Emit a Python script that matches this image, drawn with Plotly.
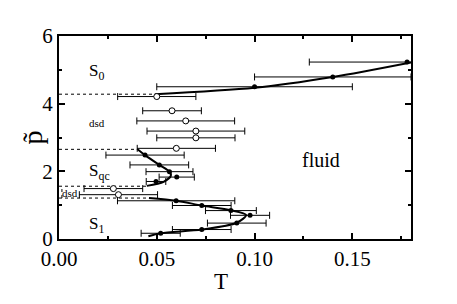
import plotly.graph_objects as go

# ---- data ----
# S0 / fluid boundary (filled points)
s0_T = [0.100, 0.140, 0.178]
s0_P = [4.50, 4.79, 5.23]
s0_dT = [0.05, 0.04, 0.05]
s0_line_T = [0.049, 0.100, 0.140, 0.180]
s0_line_P = [4.28, 4.47, 4.79, 5.22]

# dsd points (open circles)
dsd_T = [0.050, 0.0578, 0.0648, 0.070, 0.070, 0.060, 0.0278, 0.0304]
dsd_P = [4.21, 3.79, 3.49, 3.19, 2.99, 2.68, 1.49, 1.31]
dsd_dT = [0.02, 0.015, 0.025, 0.025, 0.02, 0.02, 0.015, 0.02]

# Sqc boundary (filled points)
sqc_T = [0.044, 0.0513, 0.0565, 0.0602, 0.0496]
sqc_P = [2.48, 2.19, 1.99, 1.83, 1.70]
sqc_dT = [0.02, 0.015, 0.012, 0.009, 0.005]
sqc_line_T = [0.040, 0.044, 0.0513, 0.0565, 0.0572, 0.0535, 0.0449]
sqc_line_P = [2.66, 2.48, 2.19, 1.99, 1.87, 1.69, 1.57]

# S1 boundary (filled points)
s1_T = [0.0599, 0.073, 0.0879, 0.0977, 0.0909, 0.073, 0.052]
s1_P = [1.13, 0.99, 0.84, 0.70, 0.47, 0.28, 0.17]
s1_dT = [0.03, 0.015, 0.013, 0.01, 0.015, 0.015, 0.01]
s1_line_T = [0.046, 0.0599, 0.073, 0.0879, 0.0957, 0.0909, 0.073, 0.052, 0.0457]
s1_line_P = [1.21, 1.13, 0.99, 0.85, 0.71, 0.48, 0.28, 0.17, 0.08]

# dotted guide lines (pressure level, end temperature)
guide_P = [4.28, 2.65, 1.56, 1.21]
guide_Tend = [0.049, 0.040, 0.045, 0.046]
box_T = 0.0015

x_ticks = [0.00, 0.05, 0.10, 0.15]
x_tick_text = ["0.00", "0.05", "0.10", "0.15"]
y_ticks = [0, 2, 4, 6]

FONT = "Liberation Serif, Times New Roman, serif"

fig = go.Figure()

# dotted guides
for p, te in zip(guide_P, guide_Tend):
    fig.add_trace(go.Scatter(x=[0, te], y=[p, p], mode="lines",
                             line=dict(color="black", width=1, dash="dot"),
                             showlegend=False, hoverinfo="skip"))
fig.add_trace(go.Scatter(x=[box_T, box_T], y=[guide_P[3], guide_P[2]], mode="lines",
                         line=dict(color="black", width=1, dash="dot"),
                         showlegend=False, hoverinfo="skip"))

# boundary curves
for lt, lp in [(s0_line_T, s0_line_P), (sqc_line_T, sqc_line_P), (s1_line_T, s1_line_P)]:
    fig.add_trace(go.Scatter(x=lt, y=lp, mode="lines",
                             line=dict(color="black", width=2, shape="spline", smoothing=0.8),
                             showlegend=False, hoverinfo="skip"))

err_style = dict(type="data", color="black", thickness=1, width=3.5)

# open circles
fig.add_trace(go.Scatter(x=dsd_T, y=dsd_P, mode="markers",
                         marker=dict(symbol="circle", size=6, color="white",
                                     line=dict(color="black", width=1)),
                         error_x=dict(array=dsd_dT, **err_style),
                         showlegend=False, cliponaxis=False))

# filled points
for t, p, dt in [(s0_T, s0_P, s0_dT), (sqc_T, sqc_P, sqc_dT), (s1_T, s1_P, s1_dT)]:
    fig.add_trace(go.Scatter(x=t, y=p, mode="markers",
                             marker=dict(symbol="circle", size=5, color="black"),
                             error_x=dict(array=dt, **err_style),
                             showlegend=False, cliponaxis=False))

def label(x, y, text, size, xanchor="left"):
    fig.add_annotation(x=x, y=y, xref="x", yref="y", text=text, showarrow=False,
                       xanchor=xanchor, yanchor="middle",
                       font=dict(family=FONT, size=size, color="black"))

label(0.0143, 4.93, "S<sub>0</sub>", 17)
label(0.0143, 3.43, "dsd", 11)
label(0.0143, 1.98, "S<sub>qc</sub>", 17)
label(0.0003, 1.37, "dsd", 11)
label(0.0143, 0.42, "S<sub>1</sub>", 17)
label(0.134, 2.34, "fluid", 20, xanchor="center")

# axis titles as annotations for exact placement
fig.add_annotation(x=-0.074, y=0.5, xref="paper", yref="paper", text="p\u0303",
                   textangle=-90, showarrow=False, xanchor="center", yanchor="middle",
                   font=dict(family=FONT, size=28, color="black"))
fig.add_annotation(x=0.46, y=-0.208, xref="paper", yref="paper", text="T",
                   showarrow=False, xanchor="center", yanchor="middle",
                   font=dict(family=FONT, size=23, color="black"))

axis_common = dict(showline=True, linecolor="black", linewidth=2, mirror="allticks",
                   ticks="inside", ticklen=6, tickwidth=2, tickcolor="black",
                   showgrid=False, zeroline=False, automargin=False,
                   tickfont=dict(family=FONT, size=21, color="black"))

fig.update_xaxes(range=[0, 0.18], tickvals=x_ticks, ticktext=x_tick_text,
                 minor=dict(ticks="inside", ticklen=3, tickwidth=2, tickcolor="black",
                            dtick=0.025, tick0=0, showgrid=False),
                 **axis_common)
fig.update_yaxes(range=[0, 6], tickvals=y_ticks,
                 minor=dict(ticks="inside", ticklen=3, tickwidth=2, tickcolor="black",
                            dtick=1, tick0=0, showgrid=False),
                 **axis_common)

fig.update_layout(width=457, height=304, margin=dict(l=59, r=46, t=36, b=65),
                  plot_bgcolor="white", paper_bgcolor="white",
                  font=dict(family=FONT, color="black"))

fig.write_html("out.html", config={"displayModeBar": False},
               post_script="document.body.style.margin='0px';")
